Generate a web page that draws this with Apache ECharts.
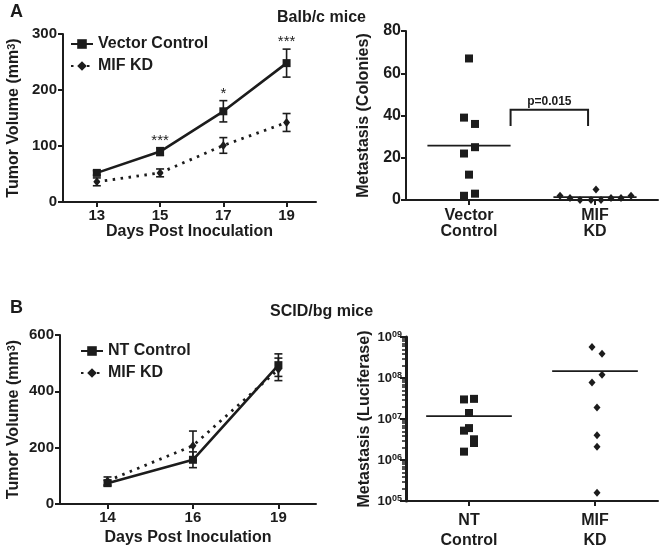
<!DOCTYPE html>
<html>
<head>
<meta charset="utf-8">
<script src="https://cdn.jsdelivr.net/npm/echarts@6/dist/echarts.min.js"></script>
<style>
  html, body { margin: 0; padding: 0; background: #fff; }
  #chart { width: 664px; height: 551px; }
</style>
</head>
<body>
<div id="chart"></div>
<script>
// ---------- Panel A (Balb/c mice) : tumor volume ----------
const daysA = [13, 15, 17, 19];
const vcMean = [52, 90, 162, 248];
const vcErr = [4, 7, 19, 25];
const kdMeanA = [36, 52, 101, 142];
const kdErrA = [7, 7, 14, 16];
const starsA = ['', '***', '*', '***'];

// ---------- Panel A : metastasis colonies ----------
const colCats = ['Vector\nControl', 'MIF\nKD'];
const colVC = [67, 39, 36, 25, 22, 12, 3, 2];
const colVCJitter = [0, -5, 6, 6, -5, 0, 6, -5];
const colKD = [2, 1, 0, 0, 5, 0, 1, 1, 2];
const colKDJitter = [-35, -25, -15, -4, 1, 6, 16, 26, 36];
const pText = 'p=0.015';

// ---------- Panel B (SCID/bg mice) : tumor volume ----------
const daysB = ['14', '16', '19'];
const ntMean = [74, 157, 493];
const ntErr = [10, 28, 40];
const kdMeanB = [82, 207, 478];
const kdErrB = [14, 52, 40];

// ---------- Panel B : metastasis luciferase ----------
const lucCats = ['NT\nControl', 'MIF\nKD'];
const lucNT = [3.0e7, 3.1e7, 1.4e7, 6.0e6, 5.2e6, 3.2e6, 2.6e6, 1.6e6];
const lucNTJitter = [-5, 5, 0, 0, -5, 5, 5, -5];
const lucKD = [5.7e8, 3.9e8, 1.2e8, 7.8e7, 1.9e7, 4.0e6, 2.1e6, 1.6e5];
const lucKDJitter = [-3, 7, 7, -3, 2, 2, 2, 2];

const FONT = '"Liberation Sans", Arial, sans-serif';
const INK = '#1c1c1c';
const mean = a => a.reduce((s, v) => s + v, 0) / a.length;

function errRender(params, api) {
  const x = api.value(0), lo = api.value(1), hi = api.value(2);
  const a = api.coord([x, lo]), b = api.coord([x, hi]);
  const w = 4, st = { stroke: INK, lineWidth: 1.6 };
  return { type: 'group', children: [
    { type: 'line', shape: { x1: a[0], y1: a[1], x2: b[0], y2: b[1] }, style: st },
    { type: 'line', shape: { x1: a[0] - w, y1: a[1], x2: a[0] + w, y2: a[1] }, style: st },
    { type: 'line', shape: { x1: b[0] - w, y1: b[1], x2: b[0] + w, y2: b[1] }, style: st }
  ]};
}
function starRender(params, api) {
  const p = api.coord([api.value(0), api.value(1)]);
  return { type: 'text', x: p[0], y: p[1] - 7,
    style: { text: starsA[params.dataIndex], font: '15px ' + FONT, fill: INK, align: 'center', verticalAlign: 'middle' } };
}
function meanRender(half) {
  return function (params, api) {
    const x = api.value(0), m = api.value(1);
    const a = api.coord([x - half, m]), b = api.coord([x + half, m]);
    return { type: 'line', shape: { x1: a[0], y1: a[1], x2: b[0], y2: b[1] }, style: { stroke: INK, lineWidth: 1.8 } };
  };
}
function bracketRender(params, api) {
  const x0 = api.value(0), x1 = api.value(1), yTop = api.value(2), yBot = api.value(3);
  const p0 = api.coord([x0, yBot]), p1 = api.coord([x0, yTop]), p2 = api.coord([x1, yTop]), p3 = api.coord([x1, yBot]);
  return { type: 'group', children: [
    { type: 'polyline', shape: { points: [p0, p1, p2, p3] }, style: { stroke: INK, lineWidth: 2, fill: null } },
    { type: 'text', x: (p1[0] + p2[0]) / 2, y: p1[1] - 2, style: { text: pText, font: 'bold 12px ' + FONT, fill: INK, align: 'center', verticalAlign: 'bottom' } }
  ]};
}

const axisLine = { show: true, onZero: false, lineStyle: { color: INK, width: 2 } };
const tick = { show: true, length: 5, lineStyle: { color: INK, width: 2 } };
const lab = { color: INK, fontFamily: FONT, fontWeight: 'bold', fontSize: 15 };
const labR = { color: INK, fontFamily: FONT, fontWeight: 'bold', fontSize: 16 };
const nameStyle = { color: INK, fontFamily: FONT, fontWeight: 'bold', fontSize: 16 };
const supRich = { s: { fontSize: 11, fontWeight: 'bold', fontFamily: FONT, color: INK, verticalAlign: 'top', lineHeight: 12 } };

// minor tick positions of the log axis, expressed as log10 values
const minorLog10 = [];
for (let k = 5; k < 9; k++) for (let m = 2; m <= 9; m++) minorLog10.push(k + Math.log10(m));

const option = {
  animation: false,
  backgroundColor: '#fff',
  textStyle: { fontFamily: FONT },
  title: [
    { text: 'A', left: 10, top: 3, padding: 0, textStyle: { fontSize: 18, fontWeight: 'bold', color: INK, fontFamily: FONT } },
    { text: 'Balb/c mice', left: 277, top: 10, padding: 0, textStyle: { fontSize: 16, fontWeight: 'bold', color: INK, fontFamily: FONT } },
    { text: 'B', left: 10, top: 299, padding: 0, textStyle: { fontSize: 18, fontWeight: 'bold', color: INK, fontFamily: FONT } },
    { text: 'SCID/bg mice', left: 270, top: 304, padding: 0, textStyle: { fontSize: 16, fontWeight: 'bold', color: INK, fontFamily: FONT } }
  ],
  legend: [
    { data: ['Vector Control', 'MIF KD'], orient: 'vertical', left: 70, top: 36, itemWidth: 22, itemHeight: 12, itemGap: 6, padding: 0,
      textStyle: { fontSize: 16, fontWeight: 'bold', color: INK, fontFamily: FONT }, selectedMode: false },
    { data: ['NT Control', 'MIF KD '], orient: 'vertical', left: 80, top: 343, itemWidth: 22, itemHeight: 12, itemGap: 6, padding: 0,
      textStyle: { fontSize: 16, fontWeight: 'bold', color: INK, fontFamily: FONT }, selectedMode: false }
  ],
  grid: [
    { left: 63, top: 34, width: 253, height: 168 },
    { left: 406, top: 31, width: 252, height: 169 },
    { left: 60, top: 335, width: 256, height: 169 },
    { left: 406, top: 337, width: 252, height: 168 }
  ],
  xAxis: [
    { gridIndex: 0, type: 'value', min: 11.93, max: 19.93, axisLine, splitLine: { show: false },
      axisTick: Object.assign({ customValues: daysA }, tick),
      axisLabel: Object.assign({ customValues: daysA, margin: 6 }, lab),
      name: 'Days Post Inoculation', nameLocation: 'middle', nameGap: 22, nameTextStyle: nameStyle },
    { gridIndex: 1, type: 'value', min: -0.5, max: 1.5, axisLine, splitLine: { show: false },
      axisTick: Object.assign({ customValues: [0, 1] }, tick),
      axisLabel: Object.assign({ customValues: [0, 1], margin: 8, lineHeight: 16, formatter: v => colCats[Math.round(v)] }, labR) },
    { gridIndex: 2, type: 'value', min: -0.556, max: 2.44, axisLine, splitLine: { show: false },
      axisTick: Object.assign({ customValues: [0, 1, 2] }, tick),
      axisLabel: Object.assign({ customValues: [0, 1, 2], margin: 6, formatter: v => daysB[Math.round(v)] }, lab),
      name: 'Days Post Inoculation', nameLocation: 'middle', nameGap: 26, nameTextStyle: nameStyle },
    { gridIndex: 3, type: 'value', min: -0.5, max: 1.5, axisLine, splitLine: { show: false },
      axisTick: Object.assign({ customValues: [0, 1] }, tick),
      axisLabel: Object.assign({ customValues: [0, 1], margin: 10, lineHeight: 20, formatter: v => lucCats[Math.round(v)] }, labR) }
  ],
  yAxis: [
    { gridIndex: 0, type: 'value', min: 0, max: 300, interval: 100, axisLine, axisTick: tick, splitLine: { show: false },
      axisLabel: Object.assign({ margin: 6 }, lab),
      name: 'Tumor Volume (mm{s|3})', nameLocation: 'middle', nameGap: 41,
      nameTextStyle: Object.assign({ rich: supRich }, nameStyle) },
    { gridIndex: 1, type: 'value', min: 0, max: 80, interval: 20, axisLine, axisTick: tick, splitLine: { show: false },
      axisLabel: Object.assign({ margin: 5 }, labR),
      name: 'Metastasis (Colonies)', nameLocation: 'middle', nameGap: 34, nameTextStyle: nameStyle },
    { gridIndex: 2, type: 'value', min: 0, max: 600, interval: 200, axisLine, axisTick: tick, splitLine: { show: false },
      axisLabel: Object.assign({ margin: 6 }, lab),
      name: 'Tumor Volume (mm{s|3})', nameLocation: 'middle', nameGap: 38,
      nameTextStyle: Object.assign({ rich: supRich }, nameStyle) },
    { gridIndex: 3, type: 'log', logBase: 10, min: 1e5, max: 1e9,
      axisLine: { show: true, onZero: false, lineStyle: { color: INK, width: 3 } },
      axisTick: { show: true, length: 6, lineStyle: { color: INK, width: 2 } }, splitLine: { show: false },
      axisLabel: { margin: 4, formatter: v => '{b|10}{s|' + String(Math.round(Math.log10(v))).padStart(2, '0') + '}',
        rich: { b: { fontSize: 13, fontWeight: 'bold', color: INK, fontFamily: FONT },
                s: { fontSize: 9, fontWeight: 'bold', color: INK, fontFamily: FONT, verticalAlign: 'top', lineHeight: 10 } } },
      name: 'Metastasis (Luciferase)', nameLocation: 'middle', nameGap: 33, nameTextStyle: nameStyle },
    { gridIndex: 3, type: 'value', min: 5, max: 9, position: 'left', offset: 0,
      axisLine: { show: false, onZero: false }, axisLabel: { show: false }, splitLine: { show: false },
      axisTick: { show: true, length: 4, customValues: minorLog10, lineStyle: { color: INK, width: 1.5 } } }
  ],
  series: [
    // Panel A left
    { name: 'Vector Control', type: 'line', xAxisIndex: 0, yAxisIndex: 0, data: daysA.map((d, i) => [d, vcMean[i]]),
      symbol: 'rect', symbolSize: 8, itemStyle: { color: INK }, lineStyle: { color: INK, width: 2.6 }, z: 3 },
    { name: 'MIF KD', type: 'line', xAxisIndex: 0, yAxisIndex: 0, data: daysA.map((d, i) => [d, kdMeanA[i]]),
      symbol: 'diamond', symbolSize: [7, 9], itemStyle: { color: INK }, lineStyle: { color: INK, width: 2.8, type: [2.5, 5.5] }, z: 3 },
    { type: 'custom', xAxisIndex: 0, yAxisIndex: 0, renderItem: errRender,
      data: daysA.map((d, i) => [d, vcMean[i] - vcErr[i], vcMean[i] + vcErr[i]]), z: 2 },
    { type: 'custom', xAxisIndex: 0, yAxisIndex: 0, renderItem: errRender,
      data: daysA.map((d, i) => [d, kdMeanA[i] - kdErrA[i], kdMeanA[i] + kdErrA[i]]), z: 2 },
    { type: 'custom', xAxisIndex: 0, yAxisIndex: 0, renderItem: starRender, silent: true,
      data: daysA.map((d, i) => [d, vcMean[i] + vcErr[i]]), z: 4 },
    // Panel A right
    { type: 'scatter', xAxisIndex: 1, yAxisIndex: 1, symbol: 'rect', symbolSize: 8, itemStyle: { color: INK, opacity: 1 },
      data: colVC.map((v, i) => ({ value: [0, v], symbolOffset: [colVCJitter[i], 0] })) },
    { type: 'scatter', xAxisIndex: 1, yAxisIndex: 1, symbol: 'diamond', symbolSize: [7, 8], itemStyle: { color: INK, opacity: 1 },
      data: colKD.map((v, i) => ({ value: [1, v], symbolOffset: [colKDJitter[i], 0] })) },
    { type: 'custom', xAxisIndex: 1, yAxisIndex: 1, renderItem: meanRender(0.33),
      data: [[0, mean(colVC)], [1, mean(colKD)]], z: 3 },
    { type: 'custom', xAxisIndex: 1, yAxisIndex: 1, renderItem: bracketRender,
      data: [[0.33, 0.945, 42.7, 35]] },
    // Panel B left
    { name: 'NT Control', type: 'line', xAxisIndex: 2, yAxisIndex: 2, data: ntMean.map((v, i) => [i, v]),
      symbol: 'rect', symbolSize: 8, itemStyle: { color: INK }, lineStyle: { color: INK, width: 2.6 }, z: 3 },
    { name: 'MIF KD ', type: 'line', xAxisIndex: 2, yAxisIndex: 2, data: kdMeanB.map((v, i) => [i, v]),
      symbol: 'diamond', symbolSize: [7, 9], itemStyle: { color: INK }, lineStyle: { color: INK, width: 2.8, type: [2.5, 5.5] }, z: 3 },
    { type: 'custom', xAxisIndex: 2, yAxisIndex: 2, renderItem: errRender,
      data: ntMean.map((v, i) => [i, v - ntErr[i], v + ntErr[i]]), z: 2 },
    { type: 'custom', xAxisIndex: 2, yAxisIndex: 2, renderItem: errRender,
      data: kdMeanB.map((v, i) => [i, v - kdErrB[i], v + kdErrB[i]]), z: 2 },
    // Panel B right
    { type: 'scatter', xAxisIndex: 3, yAxisIndex: 3, symbol: 'rect', symbolSize: 8, itemStyle: { color: INK, opacity: 1 },
      data: lucNT.map((v, i) => ({ value: [0, v], symbolOffset: [lucNTJitter[i], 0] })) },
    { type: 'scatter', xAxisIndex: 3, yAxisIndex: 3, symbol: 'diamond', symbolSize: [7, 8], itemStyle: { color: INK, opacity: 1 },
      data: lucKD.map((v, i) => ({ value: [1, v], symbolOffset: [lucKDJitter[i], 0] })) },
    { type: 'custom', xAxisIndex: 3, yAxisIndex: 3, renderItem: meanRender(0.34),
      data: [[0, mean(lucNT)], [1, mean(lucKD)]], z: 3 }
  ]
};

const chart = echarts.init(document.getElementById('chart'), null, { renderer: 'canvas' });
chart.setOption(option);
</script>
</body>
</html>
